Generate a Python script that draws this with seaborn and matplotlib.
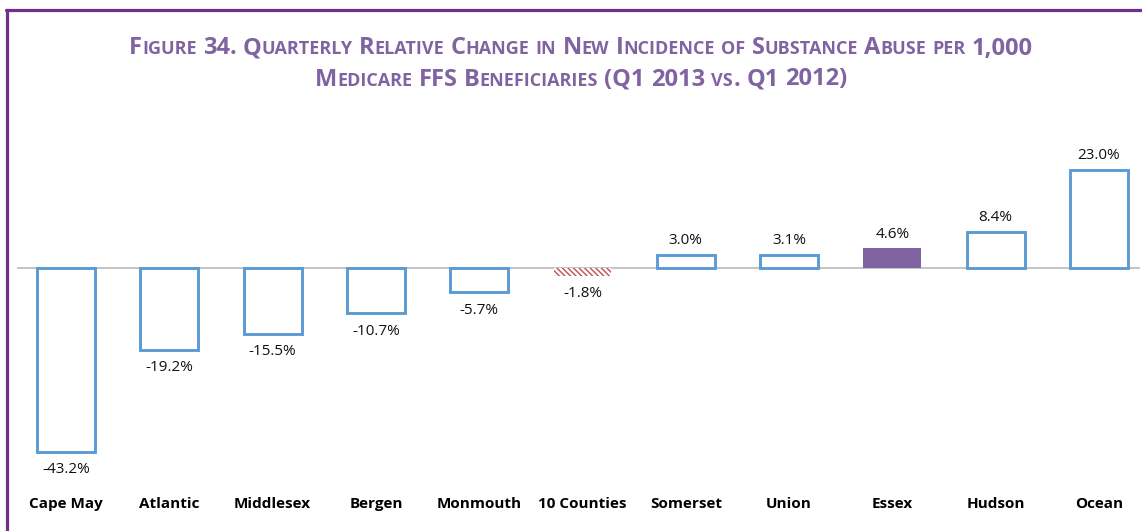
import matplotlib
matplotlib.use("Agg")
import matplotlib.pyplot as plt
import seaborn as sns
from matplotlib.offsetbox import TextArea, HPacker, AnnotationBbox
from matplotlib.lines import Line2D

# ---- data ----
counties = ["Cape May", "Atlantic", "Middlesex", "Bergen", "Monmouth", "10 Counties",
            "Somerset", "Union", "Essex", "Hudson", "Ocean"]
changes = [-43.2, -19.2, -15.5, -10.7, -5.7, -1.8, 3.0, 3.1, 4.6, 8.4, 23.0]
value_labels = [f"{v:.1f}%" for v in changes]
title_lines = ["Figure 34. Quarterly Relative Change in New Incidence of Substance Abuse per 1,000",
               "Medicare FFS Beneficiaries (Q1 2013 vs. Q1 2012)"]

W, H = 1142, 531
sns.set_theme(style="white")
plt.rcParams["font.family"] = ["Open Sans", "DejaVu Sans"]
plt.rcParams["hatch.linewidth"] = 1.0

fig = plt.figure(figsize=(W / 100, H / 100), dpi=100)
fig.patch.set_facecolor("white")

ax_left, ax_right = 17, 1140
ax_top, ax_bot = 120, 480
ax = fig.add_axes([ax_left / W, 1 - ax_bot / H, (ax_right - ax_left) / W, (ax_bot - ax_top) / H])

sns.barplot(x=counties, y=changes, ax=ax, width=0.56, color="white", saturation=1, zorder=2)

blue = "#5B9BD5"
for i, p in enumerate(ax.patches):
    if counties[i] == "Essex":
        p.set_facecolor("#8064A2")
        p.set_edgecolor("#8064A2")
        p.set_linewidth(0)
    elif counties[i] == "10 Counties":
        p.set_facecolor("white")
        p.set_edgecolor("#C0504D")
        p.set_hatch("\\\\\\\\\\\\")
        p.set_linewidth(0)
    else:
        p.set_facecolor("white")
        p.set_edgecolor(blue)
        p.set_linewidth(2.1)

ax.axhline(0, color="#BFBFBF", lw=1.3, zorder=1)

spacing = 103.3
x0 = -(66 - ax_left) / spacing
ax.set_xlim(x0, x0 + (ax_right - ax_left) / spacing)
ax.set_ylim(-(ax_bot - 268) / 4.25, (268 - ax_top) / 4.25)

for i, (v, lab) in enumerate(zip(changes, value_labels)):
    if v >= 0:
        ax.annotate(lab, (i, v), xytext=(0, 5), textcoords="offset points",
                    ha="center", va="bottom", fontsize=11, color="#111111")
    else:
        ax.annotate(lab, (i, v), xytext=(0, -7.5), textcoords="offset points",
                    ha="center", va="top", fontsize=11, color="#111111")

ax.set_yticks([])
ax.set_xlabel("")
ax.set_ylabel("")
ax.tick_params(axis="x", length=0, pad=12.5)
for t in ax.get_xticklabels():
    t.set_fontweight("bold")
    t.set_fontsize(11)
    t.set_color("black")
for s in ax.spines.values():
    s.set_visible(False)
ax.set_facecolor("white")

# ---- small-caps title ----
title_color = "#8064A2"
tfam = ["Open Sans", "DejaVu Sans"]
big, small = 17, 13


def smallcaps_line(text):
    words = []
    for word in text.split(" "):
        runs = []
        cur, cur_small = "", None
        for ch in word:
            s = ch.islower()
            if cur_small is None or s == cur_small:
                cur += ch
                cur_small = s
            else:
                runs.append((cur, cur_small))
                cur, cur_small = ch, s
        if cur:
            runs.append((cur, cur_small))
        kids = [TextArea(r.upper(), textprops=dict(fontsize=small if sm else big,
                                                   fontweight="bold", color=title_color,
                                                   family=tfam))
                for r, sm in runs]
        words.append(HPacker(children=kids, align="baseline", pad=0, sep=0))
    return HPacker(children=words, align="baseline", pad=0, sep=4.5)


for line, yc in zip(title_lines, [48.5, 79.5]):
    box = smallcaps_line(line)
    ab = AnnotationBbox(box, (581 / W, 1 - yc / H), xycoords="figure fraction",
                        box_alignment=(0.5, 0.5), frameon=False, pad=0)
    fig.add_artist(ab)

# ---- purple frame ----
frame = "#702F8A"
fig.add_artist(Line2D([7 / W, 7 / W], [1 - 9.5 / H, 0], transform=fig.transFigure,
                      color=frame, lw=2.3, solid_capstyle="projecting"))
fig.add_artist(Line2D([6 / W, 1], [1 - 9.5 / H, 1 - 9.5 / H], transform=fig.transFigure,
                      color=frame, lw=2.3))

fig.savefig("out.png", dpi=100, facecolor="white")
